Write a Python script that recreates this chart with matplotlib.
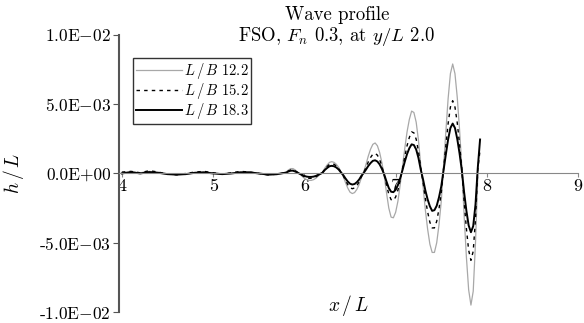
import matplotlib
matplotlib.use("Agg")
import matplotlib.pyplot as plt
import numpy as np

plt.rcParams['font.family'] = 'serif'
plt.rcParams['font.serif'] = ['cmr10', 'DejaVu Serif']
plt.rcParams['mathtext.fontset'] = 'cm'
plt.rcParams['axes.unicode_minus'] = False

# calm part, x/L 4.0 .. 5.7 (step 0.1), h/L in 1e-3
x_calm = [4.0, 4.1, 4.2, 4.3, 4.4, 4.5, 4.6, 4.7, 4.8, 4.9,
          5.0, 5.1, 5.2, 5.3, 5.4, 5.5, 5.6, 5.7]
g_calm = [0.05, 0.10, 0.05, 0.15, 0.05, -0.05, -0.10, -0.05, 0.05, 0.10,
          0.05, -0.05, 0.00, 0.10, 0.10, 0.00, -0.12, -0.08]
d_calm = [0.10, 0.15, 0.05, 0.20, 0.10, -0.05, -0.10, 0.00, 0.10, 0.15,
          0.05, -0.05, 0.05, 0.15, 0.10, 0.00, -0.10, -0.05]
b_calm = [0.00, 0.10, 0.00, 0.10, 0.05, -0.05, -0.08, -0.05, 0.05, 0.08,
          0.00, -0.05, 0.00, 0.08, 0.08, 0.00, -0.08, -0.05]

# wave part, x/L 5.8 .. 7.925 (step 0.025)
x_wave = [5.8, 5.825, 5.85, 5.875, 5.9, 5.925, 5.95, 5.975,
          6.0, 6.025, 6.05, 6.075, 6.1, 6.125, 6.15, 6.175,
          6.2, 6.225, 6.25, 6.275, 6.3, 6.325, 6.35, 6.375,
          6.4, 6.425, 6.45, 6.475, 6.5, 6.525, 6.55, 6.575,
          6.6, 6.625, 6.65, 6.675, 6.7, 6.725, 6.75, 6.775,
          6.8, 6.825, 6.85, 6.875, 6.9, 6.925, 6.95, 6.975,
          7.0, 7.025, 7.05, 7.075, 7.1, 7.125, 7.15, 7.175,
          7.2, 7.225, 7.25, 7.275, 7.3, 7.325, 7.35, 7.375,
          7.4, 7.425, 7.45, 7.475, 7.5, 7.525, 7.55, 7.575,
          7.6, 7.625, 7.65, 7.675, 7.7, 7.725, 7.75, 7.775,
          7.8, 7.825, 7.85, 7.875, 7.9, 7.925]

g_wave = [0.10, 0.25, 0.35, 0.35, 0.25, 0.10, -0.05, -0.20,
          -0.35, -0.45, -0.50, -0.50, -0.45, -0.35, -0.20, -0.05,
          0.10, 0.40, 0.62, 0.80, 0.85, 0.80, 0.66, 0.45,
          0.12, -0.20, -0.65, -1.05, -1.35, -1.45, -1.38, -1.15,
          -0.80, -0.30, 0.10, 0.65, 1.25, 1.75, 2.10, 2.20,
          2.00, 1.50, 0.75, -0.20, -1.40, -2.50, -3.15, -3.20,
          -2.80, -2.00, -0.80, 0.50, 1.80, 3.00, 3.90, 4.50,
          4.40, 3.70, 2.40, 0.60, -0.90, -2.60, -4.00, -5.10,
          -5.70, -5.70, -5.00, -3.70, -2.00, 0.50, 3.00, 5.40,
          7.20, 7.90, 7.20, 5.50, 3.20, 0.50, -3.00, -6.00,
          -8.40, -9.50, -8.50, -5.00, -0.30]

d_wave = [0.07, 0.18, 0.25, 0.25, 0.18, 0.07, -0.03, -0.14,
          -0.25, -0.32, -0.35, -0.35, -0.32, -0.25, -0.14, -0.03,
          0.08, 0.33, 0.51, 0.66, 0.70, 0.66, 0.54, 0.37,
          0.10, -0.15, -0.49, -0.80, -1.03, -1.10, -1.05, -0.87,
          -0.61, -0.23, 0.07, 0.43, 0.83, 1.15, 1.39, 1.45,
          1.32, 0.99, 0.50, -0.12, -0.84, -1.50, -1.89, -1.95,
          -1.70, -1.20, -0.48, 0.34, 1.21, 2.00, 2.60, 3.00,
          2.93, 2.47, 1.60, 0.40, -0.62, -1.79, -2.76, -3.52,
          -3.93, -3.93, -3.45, -2.55, -1.38, 0.33, 1.99, 3.59,
          4.79, 5.25, 4.79, 3.66, 2.13, 0.33, -1.98, -3.96,
          -5.54, -6.27, -5.61, -3.30, 0.30, 1.70]

b_wave = [0.06, 0.14, 0.20, 0.20, 0.14, 0.06, -0.03, -0.10,
          -0.18, -0.23, -0.25, -0.25, -0.23, -0.18, -0.10, -0.03,
          0.06, 0.26, 0.40, 0.52, 0.55, 0.52, 0.43, 0.29,
          0.08, -0.11, -0.36, -0.58, -0.74, -0.80, -0.76, -0.63,
          -0.44, -0.17, 0.04, 0.28, 0.54, 0.75, 0.91, 0.95,
          0.86, 0.65, 0.32, -0.08, -0.59, -1.05, -1.32, -1.35,
          -1.18, -0.84, -0.34, 0.24, 0.85, 1.40, 1.82, 2.10,
          2.05, 1.73, 1.12, 0.28, -0.42, -1.21, -1.86, -2.37,
          -2.70, -2.65, -2.33, -1.72, -0.93, 0.23, 1.37, 2.46,
          3.28, 3.60, 3.28, 2.50, 1.46, 0.23, -1.34, -2.68,
          -3.75, -4.24, -3.80, -2.24, 0.40, 2.45]

labels = [r'$L\,/\,B$ 12.2', r'$L\,/\,B$ 15.2', r'$L\,/\,B$ 18.3']
y_ticks = [-1.0e-2, -5.0e-3, 0.0, 5.0e-3, 1.0e-2]
y_ticklabels = ['-1.0E$-$02', '-5.0E$-$03', '0.0E+00', '5.0E$-$03', '1.0E$-$02']
x_ticks = [4, 5, 6, 7, 8, 9]


def series(calm, wave):
    xs = x_calm + x_wave[:len(wave)]
    ys = np.array(calm + wave) * 1e-3
    return xs, ys


fig = plt.figure(figsize=(5.84, 3.23), dpi=100)
ax = fig.add_axes([0.204, 0.034, 0.786, 0.858])

xg, yg = series(g_calm, g_wave)
xd, yd = series(d_calm, d_wave)
xb, yb = series(b_calm, b_wave)
ax.plot(xg, yg, color='#a8a8a8', lw=0.9, label=labels[0])
ax.plot(xd, yd, color='black', lw=1.0, ls=(0, (2.5, 3)), label=labels[1])
ax.plot(xb, yb, color='black', lw=1.4, label=labels[2])

ax.set_xlim(3.97, 9.0)
ax.set_ylim(-1.0e-2, 1.0e-2)
ax.spines['top'].set_visible(False)
ax.spines['right'].set_visible(False)
ax.spines['bottom'].set_position(('data', 0))
ax.spines['bottom'].set_color('#888888')
ax.spines['bottom'].set_linewidth(0.8)
ax.spines['left'].set_color('#555555')
ax.spines['left'].set_linewidth(1.5)

ax.set_xticks(x_ticks)
ax.set_xticklabels([str(t) for t in x_ticks])
ax.set_yticks(y_ticks)
ax.set_yticklabels(y_ticklabels)
ax.tick_params(axis='x', length=3, width=0.8, color='#888888', labelsize=13, pad=1)
ax.tick_params(axis='y', length=4, width=0.8, color='#555555', labelsize=12.5, pad=2)

ax.text(0.5, -0.02, r'$x\,/\,L$', transform=ax.transAxes, ha='center', va='bottom', fontsize=14)
ax.set_ylabel(r'$h\,/\,L$', fontsize=14)
ax.yaxis.set_label_coords(-0.203, 0.5)

fig.text(0.577, 0.98, 'Wave profile\nFSO, $F_n$ 0.3, at $y/L$ 2.0', ha='center', va='top',
         fontsize=13.5, linespacing=1.05)

leg = ax.legend(loc='upper left', bbox_to_anchor=(0.03, 0.915), fontsize=10.5, frameon=True,
                fancybox=False, framealpha=1, edgecolor='#333333', handlelength=3.2,
                labelspacing=0.0, borderpad=0.2, handletextpad=0.1, borderaxespad=0)
leg.get_frame().set_linewidth(1.0)

fig.savefig('out.png', dpi=100)
